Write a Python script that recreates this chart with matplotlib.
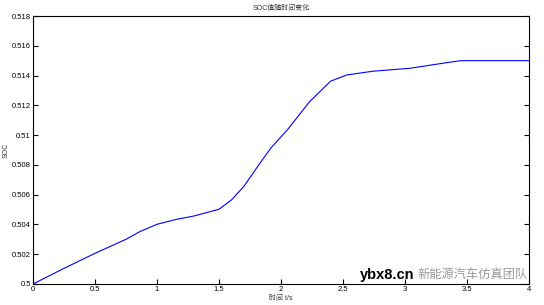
import matplotlib
matplotlib.use('Agg')
import matplotlib.pyplot as plt

plt.rcParams['font.family'] = ['Liberation Sans', 'Noto Sans CJK SC', 'DejaVu Sans']

# 时间 / SOC 读数
t = [0, 0.25, 0.5, 0.75, 0.86, 1.0, 1.15, 1.3, 1.5, 1.6, 1.7, 1.83, 1.92,
     2.05, 2.23, 2.4, 2.53, 2.74, 3.04, 3.34, 3.45, 4.0]
soc = [0.5, 0.50105, 0.50206, 0.50300, 0.50351, 0.50401, 0.50433, 0.50457,
       0.50502, 0.50564, 0.50655, 0.50811, 0.50915, 0.51034, 0.51224,
       0.51362, 0.51404, 0.51429, 0.51449, 0.51487, 0.515, 0.515]
xticks = [0, 0.5, 1, 1.5, 2, 2.5, 3, 3.5, 4]
yticks = [0.5, 0.502, 0.504, 0.506, 0.508, 0.51, 0.512, 0.514, 0.516, 0.518]

fig = plt.figure(figsize=(5.44, 3.05), dpi=100)
ax = fig.add_axes([0.0607, 0.0689, 0.9117, 0.8786])
ax.plot(t, soc, color='blue', lw=0.8)

ax.set_xlim(0, 4)
ax.set_ylim(0.5, 0.518)
ax.set_xticks(xticks)
ax.set_xticklabels([f'{v:g}' for v in xticks])
ax.set_yticks(yticks)
ax.set_yticklabels([f'{v:g}' for v in yticks])
ax.tick_params(direction='in', length=3.5, width=0.8, labelsize=5.5, pad=1.5,
               top=False, right=True)
for s in ax.spines.values():
    s.set_linewidth(0.8)

ax.set_title('SOC值随时间变化', fontsize=5, pad=4, color='#333333')
ax.set_xlabel('时间 t/s', fontsize=5, labelpad=1, color='#333333')
ax.set_ylabel('SOC', fontsize=5, labelpad=2, color='#333333')

# 水印
fig.text(0.662, 0.085, 'ybx8.cn', fontsize=10.5, fontweight='bold', color='black')
fig.text(0.768, 0.098, '新能源汽车仿真团队', fontsize=8.8, color='#999999', va='center')

fig.savefig('out.png', dpi=100)
